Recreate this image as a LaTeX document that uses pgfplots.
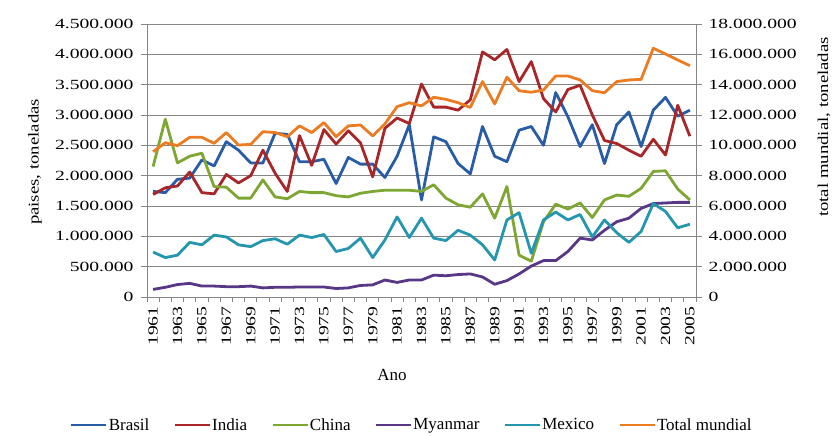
\documentclass[border=0pt]{standalone}
\usepackage{fontspec}
\setmainfont{Liberation Serif}
\newfontfamily\widefont[FakeStretch=1.4]{Liberation Serif}
\newfontfamily\labelfont[FakeStretch=1.25]{Liberation Serif}
\usepackage{pgfplots}
\usepackage{pgfplotstable}
\pgfplotsset{compat=1.18}

\definecolor{axisgray}{RGB}{134,134,134}
\definecolor{cBrasil}{RGB}{40,92,166}
\definecolor{cIndia}{RGB}{168,38,40}
\definecolor{cChina}{RGB}{126,166,50}
\definecolor{cMyanmar}{RGB}{88,56,134}
\definecolor{cMexico}{RGB}{36,150,174}
\definecolor{cTotal}{RGB}{236,124,34}

\newcommand\tickfnt{\widefont\fontsize{14bp}{16bp}\selectfont}
\newcommand\labfnt{\labelfont\fontsize{15bp}{17bp}\selectfont}
\newcommand\legfnt{\fontsize{17bp}{19bp}\selectfont}

% Production in tonnes per year
\pgfplotstableread{
year brasil  india   china   myanmar mexico  total
1961 1740000 1690000 2150000 125000  740000  9580000
1962 1720000 1800000 2930000 160000  650000  10170000
1963 1940000 1830000 2210000 205000  690000  9980000
1964 1960000 2060000 2320000 225000  900000  10530000
1965 2260000 1720000 2370000 180000  860000  10530000
1966 2160000 1700000 1820000 180000  1020000 10130000
1967 2560000 2020000 1810000 170000  990000  10840000
1968 2420000 1880000 1630000 170000  860000  10020000
1969 2210000 2000000 1630000 180000  830000  10060000
1970 2210000 2420000 1930000 150000  930000  10900000
1971 2700000 2040000 1650000 160000  960000  10840000
1972 2680000 1740000 1620000 160000  870000  10570000
1973 2230000 2660000 1740000 165000  1020000 11280000
1974 2230000 2170000 1720000 165000  980000  10840000
1975 2270000 2760000 1720000 165000  1030000 11500000
1976 1870000 2520000 1670000 140000  750000  10570000
1977 2300000 2740000 1650000 150000  800000  11280000
1978 2190000 2540000 1710000 190000  970000  11340000
1979 2190000 1980000 1740000 200000  650000  10620000
1980 1970000 2780000 1760000 280000  940000  11410000
1981 2320000 2950000 1760000 240000  1320000 12550000
1982 2840000 2860000 1760000 280000  980000  12810000
1983 1600000 3510000 1740000 280000  1300000 12600000
1984 2640000 3130000 1850000 360000  970000  13170000
1985 2560000 3130000 1630000 350000  930000  13030000
1986 2200000 3080000 1520000 370000  1100000 12810000
1987 2030000 3250000 1480000 380000  1020000 12500000
1988 2810000 4040000 1700000 330000  860000  14200000
1989 2320000 3910000 1300000 210000  610000  12730000
1990 2230000 4080000 1820000 270000  1270000 14490000
1991 2750000 3550000 690000  380000  1390000 13600000
1992 2810000 3880000 590000  510000  720000  13500000
1993 2500000 3270000 1240000 600000  1270000 13650000
1994 3370000 3050000 1530000 600000  1400000 14570000
1995 2970000 3420000 1450000 750000  1270000 14570000
1996 2480000 3490000 1550000 970000  1360000 14310000
1997 2840000 3000000 1310000 940000  990000  13600000
1998 2200000 2580000 1600000 1100000 1270000 13470000
1999 2840000 2530000 1680000 1240000 1060000 14200000
2000 3050000 2420000 1660000 1300000 900000  14310000
2001 2480000 2320000 1790000 1460000 1080000 14350000
2002 3080000 2600000 2070000 1540000 1540000 16400000
2003 3290000 2340000 2080000 1550000 1410000 16020000
2004 2980000 3160000 1780000 1560000 1140000 15630000
2005 3080000 2650000 1600000 1560000 1200000 15250000
}\datatable

\pgfplotsset{
  series/.style={line width=2.8bp, line join=round, no markers},
  common/.style={
    at={(0,0)}, anchor=south west, scale only axis,
    width=549bp, height=273bp,
    xmin=1960.5, xmax=2005.5, ymin=0,
    axis line style={draw=axisgray, line width=0.9bp},
    tick align=outside,
    major tick length=6bp, minor tick length=5bp,
    tick style={draw=axisgray, line width=0.9bp},
    ticklabel style={font=\tickfnt},
    scaled y ticks=false,
  },
}

\begin{document}
\begin{tikzpicture}[x=1bp,y=1bp]
\useasboundingbox (-147,-139) rectangle (685,297);
\begin{axis}[
  common,
  ymax=4500000,
  axis lines*=left,
  ymajorgrids,
  major grid style={draw=axisgray, line width=0.9bp},
  ytick={0,500000,1000000,1500000,2000000,2500000,3000000,3500000,4000000,4500000},
  yticklabels={0,500.000,1.000.000,1.500.000,2.000.000,2.500.000,3.000.000,3.500.000,4.000.000,4.500.000},
  yticklabel style={anchor=east, xshift=-4bp},
  xtick={1961,1963,...,2005},
  xticklabels={1961,1963,1965,1967,1969,1971,1973,1975,1977,1979,1981,1983,1985,1987,1989,1991,1993,1995,1997,1999,2001,2003,2005},
  minor xtick={1960.5,1961.5,...,2005.5},
  major x tick style={draw=none},
  xticklabel style={rotate=90, anchor=east},
  legend style={at={(axis description cs:-0.146,-0.469)}, anchor=west,
    draw=none, fill=none, font=\legfnt,
    /tikz/every even column/.append style={column sep=23bp},
    nodes={inner sep=1bp}},
  legend columns=-1,
  legend image code/.code={\draw[#1] (0bp,0bp) -- (35bp,0bp);},
]
\addplot[series, cBrasil]  table[x=year, y=brasil]  {\datatable};
\addlegendentry{Brasil}
\addplot[series, cIndia]   table[x=year, y=india]   {\datatable};
\addlegendentry{India}
\addplot[series, cChina]   table[x=year, y=china]   {\datatable};
\addlegendentry{China}
\addplot[series, cMyanmar] table[x=year, y=myanmar] {\datatable};
\addlegendentry{Myanmar}
\addplot[series, cMexico]  table[x=year, y=mexico]  {\datatable};
\addlegendentry{Mexico}
\addlegendimage{series, cTotal}
\addlegendentry{Total mundial}
\end{axis}

\begin{axis}[
  common,
  ymax=18000000,
  axis x line=none,
  axis y line*=right,
  ytick={0,2000000,4000000,6000000,8000000,10000000,12000000,14000000,16000000,18000000},
  yticklabels={0,2.000.000,4.000.000,6.000.000,8.000.000,10.000.000,12.000.000,14.000.000,16.000.000,18.000.000},
  yticklabel style={anchor=west, xshift=3bp},
]
\addplot[series, cTotal] table[x=year, y=total] {\datatable};
\end{axis}

\node[rotate=90, font=\labfnt] at (-112,135) {paises, toneladas};
\node[rotate=90, font=\labfnt] at (677,170) {total mundial, toneladas};
\node[font=\legfnt] at (245,-78) {Ano};
\end{tikzpicture}
\end{document}
